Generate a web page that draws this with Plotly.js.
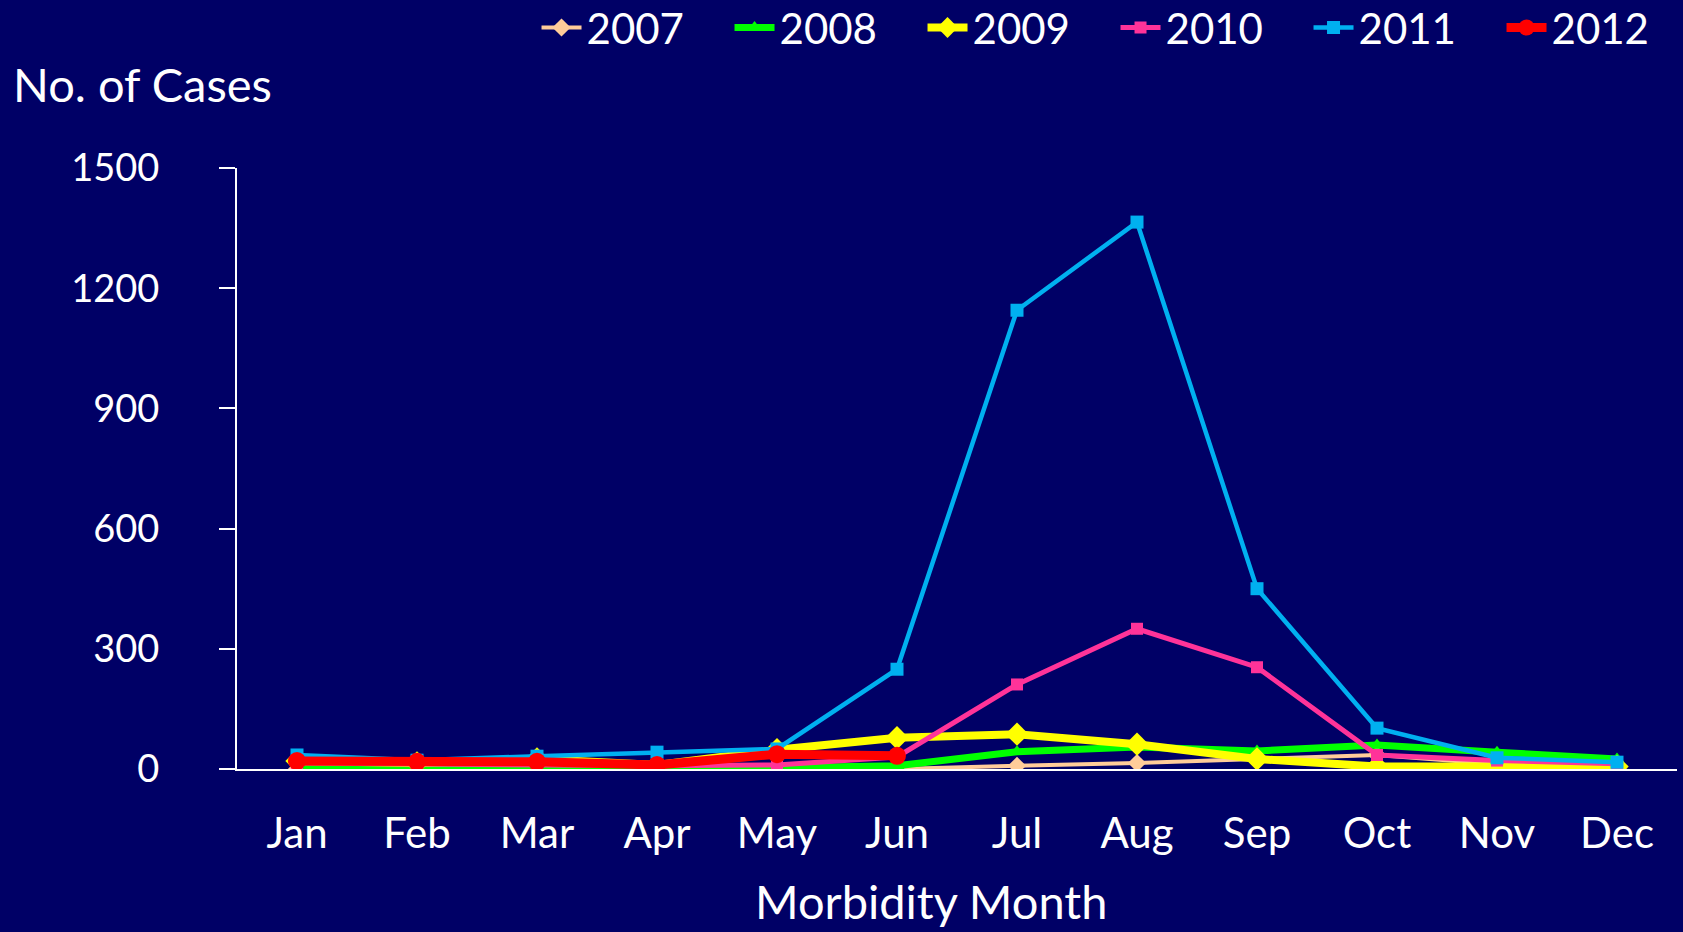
<!DOCTYPE html>
<html>
<head>
<meta charset="utf-8">
<script src="https://cdn.plot.ly/plotly-3.0.1.min.js"></script>
<style>
  html, body { margin: 0; padding: 0; background: #000066; }
  #chart { width: 1683px; height: 932px; }
</style>
</head>
<body>
<div id="chart"></div>
<script>
const months = ["Jan","Feb","Mar","Apr","May","Jun","Jul","Aug","Sep","Oct","Nov","Dec"];
const y2007 = [0, 0, 0, 0, 0, 0, 8, 15, 25, 35, 12, 2];
const y2008 = [3, 2, 0, 0, 3, 8, 43, 55, 45, 60, 42, 25];
const y2009 = [20, 15, 25, 10, 48, 78, 87, 62, 25, 6, 6, 6];
const y2010 = [15, 12, 12, 8, 10, 30, 211, 350, 254, 35, 21, 13];
const y2011 = [35, 22, 32, 42, 50, 249, 1145, 1365, 450, 102, 28, 17];
const y2012 = [20, 18, 18, 10, 37, 33];
const yTicks = [0, 300, 600, 900, 1200, 1500];

const FONT = "Lato, 'Open Sans', sans-serif";

function series(name, y, color, width, symbol, msize) {
  return {
    type: "scatter", mode: "lines+markers", name: name,
    x: months.slice(0, y.length), y: y,
    line: {color: color, width: width},
    marker: {color: color, symbol: symbol, size: msize}
  };
}

const data = [
  series("2007", y2007, "#FFCC99", 4, "diamond", 14),
  series("2008", y2008, "#00FF00", 7, "triangle-up", 13),
  series("2009", y2009, "#FFFF00", 8, "diamond", 18),
  series("2010", y2010, "#FF3399", 5, "square", 12),
  series("2011", y2011, "#00B0F0", 4.5, "square", 13),
  series("2012", y2012, "#FF0000", 9, "circle", 18)
];

const layout = {
  width: 1683, height: 932,
  paper_bgcolor: "#000066", plot_bgcolor: "#000066",
  font: {family: FONT, color: "#FFFFFF", size: 38},
  margin: {l: 237, r: 6, t: 168, b: 163, autoexpand: false},
  showlegend: true,
  legend: {
    orientation: "h", x: 0.208, xanchor: "left", y: 1.29, yanchor: "top",
    font: {size: 42, color: "#FFFFFF"}, bgcolor: "rgba(0,0,0,0)",
    entrywidth: 138, entrywidthmode: "pixels", itemwidth: 40,
    traceorder: "normal"
  },
  xaxis: {
    type: "category", categoryorder: "array", categoryarray: months,
    range: [-0.5, 11.5],
    showline: true, linecolor: "#FFFFFF", linewidth: 2,
    ticks: "", showgrid: false, zeroline: false,
    tickfont: {size: 42, color: "#FFFFFF"},
    ticklabelstandoff: 27
  },
  yaxis: {
    range: [0, 1500], tickvals: yTicks, ticktext: yTicks.map(String),
    showline: true, linecolor: "#FFFFFF", linewidth: 2,
    ticks: "outside", ticklen: 16, tickwidth: 2, tickcolor: "#FFFFFF",
    showgrid: false, zeroline: false,
    tickfont: {size: 38, color: "#FFFFFF"},
    ticklabelstandoff: 52
  },
  annotations: [
    {
      text: "No. of Cases", xref: "paper", yref: "paper",
      x: -0.157, xanchor: "left", y: 1.14, yanchor: "middle",
      showarrow: false, font: {size: 47, color: "#FFFFFF"}
    },
    {
      text: "Morbidity Month", xref: "paper", yref: "paper",
      x: 0.4817, xanchor: "center", y: -0.22, yanchor: "middle",
      showarrow: false, font: {size: 47, color: "#FFFFFF"}
    }
  ]
};

Plotly.newPlot("chart", data, layout, {displayModeBar: false, staticPlot: true});
</script>
</body>
</html>
